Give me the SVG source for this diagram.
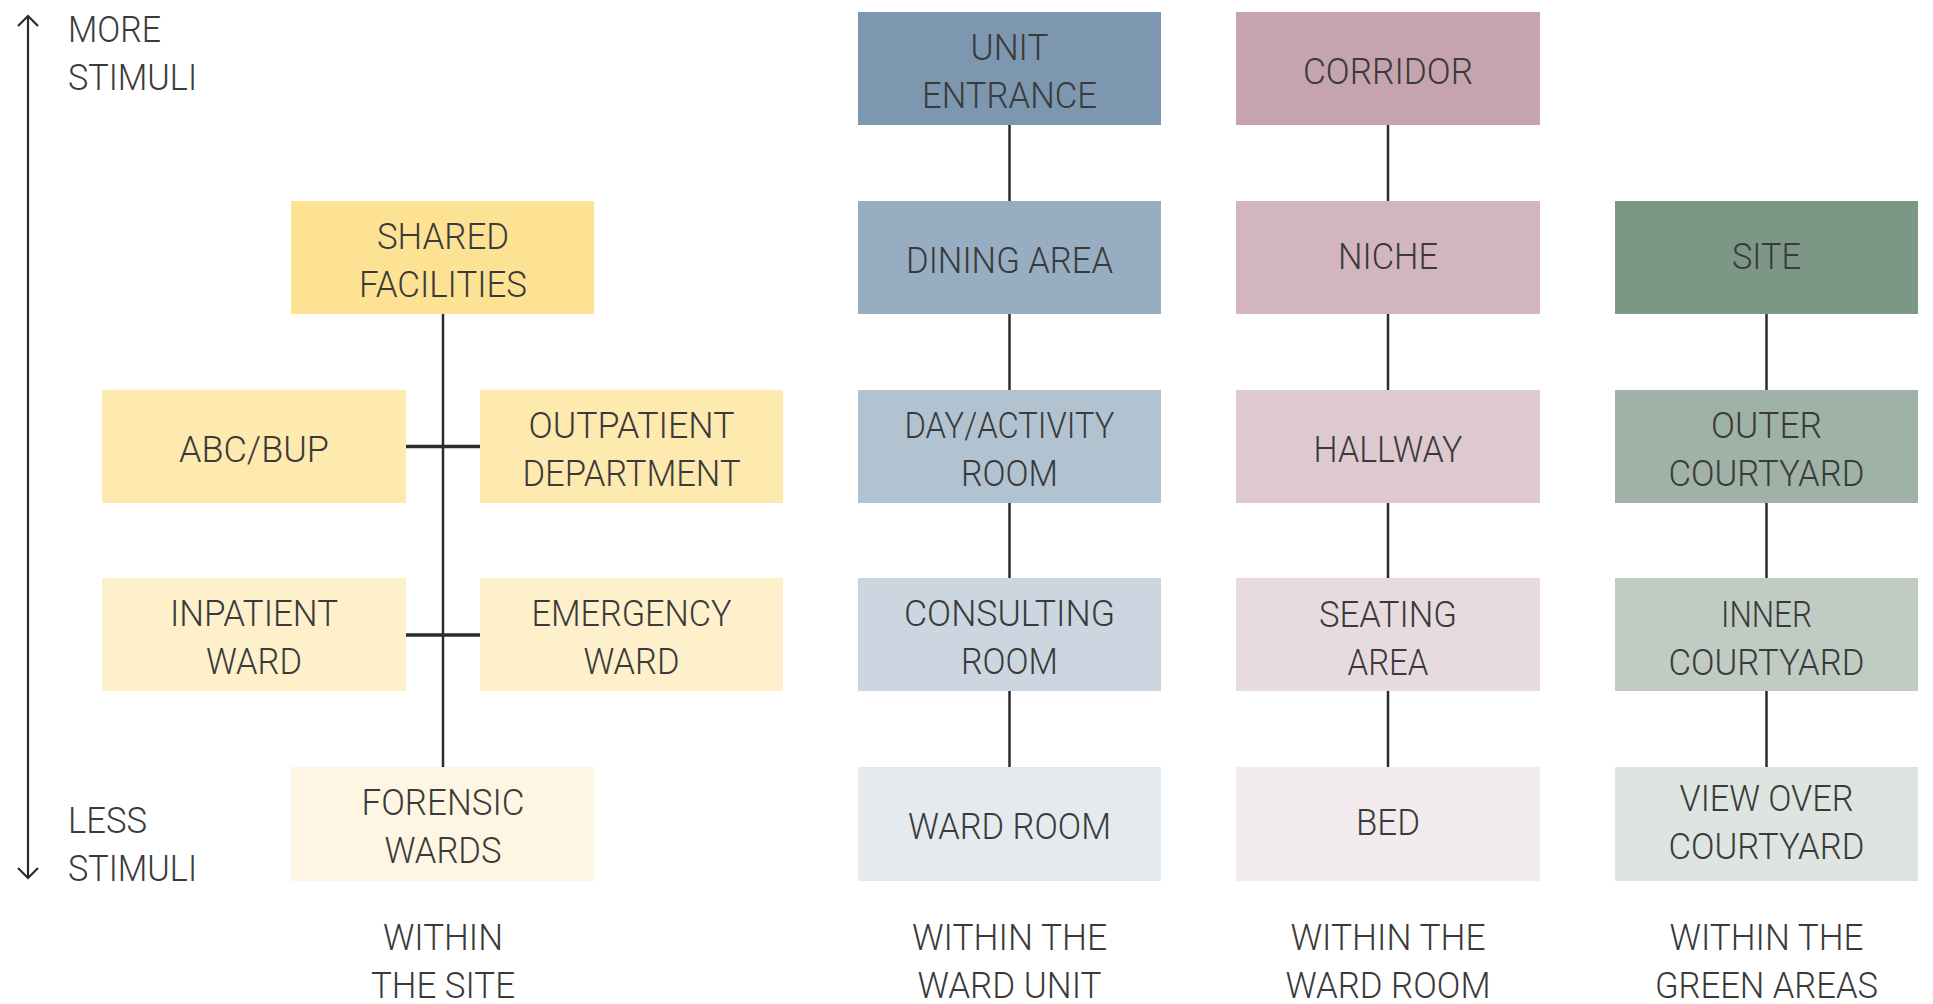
<svg xmlns="http://www.w3.org/2000/svg" width="1933" height="1004" viewBox="0 0 1933 1004">
<style>
.t{font-family:Roboto,"Liberation Sans",sans-serif;font-weight:300;font-size:37px;fill:#3a3a3a;text-anchor:middle}
.l{text-anchor:start}
.c{stroke:#2b2b2b;stroke-width:2.5;fill:none}
.h{stroke:#2b2b2b;stroke-width:3.5;fill:none}
.a{stroke:#2b2b2b;stroke-width:2.2;fill:none}
</style>
<rect width="1933" height="1004" fill="#ffffff"/>

<g id="axis">
<line class="a" x1="28" y1="16" x2="28" y2="878"/>
<path class="a" d="M18,26 L28,16 L38,26"/>
<path class="a" d="M18,868 L28,878 L38,868"/>
<text class="t l" x="68" y="42" textLength="93" lengthAdjust="spacingAndGlyphs">MORE</text>
<text class="t l" x="68" y="90" textLength="129" lengthAdjust="spacingAndGlyphs">STIMULI</text>
<text class="t l" x="68" y="833" textLength="79" lengthAdjust="spacingAndGlyphs">LESS</text>
<text class="t l" x="68" y="881" textLength="129" lengthAdjust="spacingAndGlyphs">STIMULI</text>
</g>

<g id="connectors">
<line class="c" x1="443" y1="314" x2="443" y2="768"/>
<line class="h" x1="406" y1="446.5" x2="480" y2="446.5"/>
<line class="h" x1="406" y1="635" x2="480" y2="635"/>
<line class="c" x1="1009.5" y1="125" x2="1009.5" y2="201"/>
<line class="c" x1="1009.5" y1="314" x2="1009.5" y2="390"/>
<line class="c" x1="1009.5" y1="503" x2="1009.5" y2="578"/>
<line class="c" x1="1009.5" y1="691" x2="1009.5" y2="767"/>
<line class="c" x1="1388" y1="125" x2="1388" y2="201"/>
<line class="c" x1="1388" y1="314" x2="1388" y2="390"/>
<line class="c" x1="1388" y1="503" x2="1388" y2="578"/>
<line class="c" x1="1388" y1="691" x2="1388" y2="767"/>
<line class="c" x1="1766.5" y1="314" x2="1766.5" y2="390"/>
<line class="c" x1="1766.5" y1="503" x2="1766.5" y2="578"/>
<line class="c" x1="1766.5" y1="691" x2="1766.5" y2="767"/>
</g>

<!-- Column 1 -->
<g id="shared-facilities">
<rect x="291" y="201" width="303" height="113" fill="#fee293"/>
<text class="t" x="443" y="249" textLength="132" lengthAdjust="spacingAndGlyphs">SHARED</text>
<text class="t" x="443" y="297" textLength="168" lengthAdjust="spacingAndGlyphs">FACILITIES</text>
</g>
<g id="abc-bup">
<rect x="102" y="390" width="304" height="113" fill="#fee9ae"/>
<text class="t" x="254" y="462" textLength="150" lengthAdjust="spacingAndGlyphs">ABC/BUP</text>
</g>
<g id="outpatient-department">
<rect x="480" y="390" width="303" height="113" fill="#fee9ae"/>
<text class="t" x="631.5" y="438" textLength="206" lengthAdjust="spacingAndGlyphs">OUTPATIENT</text>
<text class="t" x="631.5" y="486" textLength="218" lengthAdjust="spacingAndGlyphs">DEPARTMENT</text>
</g>
<g id="inpatient-ward">
<rect x="102" y="578" width="304" height="113" fill="#fef0ca"/>
<text class="t" x="254" y="626" textLength="168" lengthAdjust="spacingAndGlyphs">INPATIENT</text>
<text class="t" x="254" y="674" textLength="96" lengthAdjust="spacingAndGlyphs">WARD</text>
</g>
<g id="emergency-ward">
<rect x="480" y="578" width="303" height="113" fill="#fef0ca"/>
<text class="t" x="631.5" y="626" textLength="200" lengthAdjust="spacingAndGlyphs">EMERGENCY</text>
<text class="t" x="631.5" y="674" textLength="96" lengthAdjust="spacingAndGlyphs">WARD</text>
</g>
<g id="forensic-wards">
<rect x="291" y="767" width="303" height="114" fill="#fef6e2"/>
<text class="t" x="443" y="815" textLength="163" lengthAdjust="spacingAndGlyphs">FORENSIC</text>
<text class="t" x="443" y="863" textLength="117" lengthAdjust="spacingAndGlyphs">WARDS</text>
</g>

<!-- Column 2 -->
<g id="unit-entrance">
<rect x="858" y="12" width="303" height="113" fill="#7c97af"/>
<text class="t" x="1009.5" y="60" textLength="78" lengthAdjust="spacingAndGlyphs">UNIT</text>
<text class="t" x="1009.5" y="108" textLength="175" lengthAdjust="spacingAndGlyphs">ENTRANCE</text>
</g>
<g id="dining-area">
<rect x="858" y="201" width="303" height="113" fill="#97adc1"/>
<text class="t" x="1009.5" y="273" textLength="207" lengthAdjust="spacingAndGlyphs">DINING AREA</text>
</g>
<g id="day-activity-room">
<rect x="858" y="390" width="303" height="113" fill="#b1c2d1"/>
<text class="t" x="1009.5" y="438" textLength="210" lengthAdjust="spacingAndGlyphs">DAY/ACTIVITY</text>
<text class="t" x="1009.5" y="486" textLength="97" lengthAdjust="spacingAndGlyphs">ROOM</text>
</g>
<g id="consulting-room">
<rect x="858" y="578" width="303" height="113" fill="#ccd6e0"/>
<text class="t" x="1009.5" y="626" textLength="211" lengthAdjust="spacingAndGlyphs">CONSULTING</text>
<text class="t" x="1009.5" y="674" textLength="97" lengthAdjust="spacingAndGlyphs">ROOM</text>
</g>
<g id="ward-room">
<rect x="858" y="767" width="303" height="114" fill="#e5eaef"/>
<text class="t" x="1009.5" y="839" textLength="203" lengthAdjust="spacingAndGlyphs">WARD ROOM</text>
</g>

<!-- Column 3 -->
<g id="corridor">
<rect x="1236" y="12" width="304" height="113" fill="#c5a3af"/>
<text class="t" x="1388" y="84" textLength="170" lengthAdjust="spacingAndGlyphs">CORRIDOR</text>
</g>
<g id="niche">
<rect x="1236" y="201" width="304" height="113" fill="#d3b5bf"/>
<text class="t" x="1388" y="269" textLength="100" lengthAdjust="spacingAndGlyphs">NICHE</text>
</g>
<g id="hallway">
<rect x="1236" y="390" width="304" height="113" fill="#dec9d0"/>
<text class="t" x="1388" y="462" textLength="149" lengthAdjust="spacingAndGlyphs">HALLWAY</text>
</g>
<g id="seating-area">
<rect x="1236" y="578" width="304" height="113" fill="#e8dbe0"/>
<text class="t" x="1388" y="627" textLength="138" lengthAdjust="spacingAndGlyphs">SEATING</text>
<text class="t" x="1388" y="675" textLength="81" lengthAdjust="spacingAndGlyphs">AREA</text>
</g>
<g id="bed">
<rect x="1236" y="767" width="304" height="114" fill="#f2ecee"/>
<text class="t" x="1388" y="835" textLength="64" lengthAdjust="spacingAndGlyphs">BED</text>
</g>

<!-- Column 4 -->
<g id="site">
<rect x="1615" y="201" width="303" height="113" fill="#7d9787"/>
<text class="t" x="1766.5" y="269" textLength="69" lengthAdjust="spacingAndGlyphs">SITE</text>
</g>
<g id="outer-courtyard">
<rect x="1615" y="390" width="303" height="113" fill="#a0b1a7"/>
<text class="t" x="1766.5" y="438" textLength="111" lengthAdjust="spacingAndGlyphs">OUTER</text>
<text class="t" x="1766.5" y="486" textLength="196" lengthAdjust="spacingAndGlyphs">COURTYARD</text>
</g>
<g id="inner-courtyard">
<rect x="1615" y="578" width="303" height="113" fill="#c0cbc4"/>
<text class="t" x="1766.5" y="627" textLength="91" lengthAdjust="spacingAndGlyphs">INNER</text>
<text class="t" x="1766.5" y="675" textLength="196" lengthAdjust="spacingAndGlyphs">COURTYARD</text>
</g>
<g id="view-over-courtyard">
<rect x="1615" y="767" width="303" height="114" fill="#dee4e0"/>
<text class="t" x="1766.5" y="811" textLength="174" lengthAdjust="spacingAndGlyphs">VIEW OVER</text>
<text class="t" x="1766.5" y="859" textLength="196" lengthAdjust="spacingAndGlyphs">COURTYARD</text>
</g>

<g id="column-labels">
<text class="t" x="443" y="950" textLength="120" lengthAdjust="spacingAndGlyphs">WITHIN</text>
<text class="t" x="443" y="998" textLength="144" lengthAdjust="spacingAndGlyphs">THE SITE</text>
<text class="t" x="1009.5" y="950" textLength="195" lengthAdjust="spacingAndGlyphs">WITHIN THE</text>
<text class="t" x="1009.5" y="998" textLength="184" lengthAdjust="spacingAndGlyphs">WARD UNIT</text>
<text class="t" x="1388" y="950" textLength="195" lengthAdjust="spacingAndGlyphs">WITHIN THE</text>
<text class="t" x="1388" y="998" textLength="205" lengthAdjust="spacingAndGlyphs">WARD ROOM</text>
<text class="t" x="1766.5" y="950" textLength="194" lengthAdjust="spacingAndGlyphs">WITHIN THE</text>
<text class="t" x="1766.5" y="998" textLength="223" lengthAdjust="spacingAndGlyphs">GREEN AREAS</text>
</g>
</svg>
